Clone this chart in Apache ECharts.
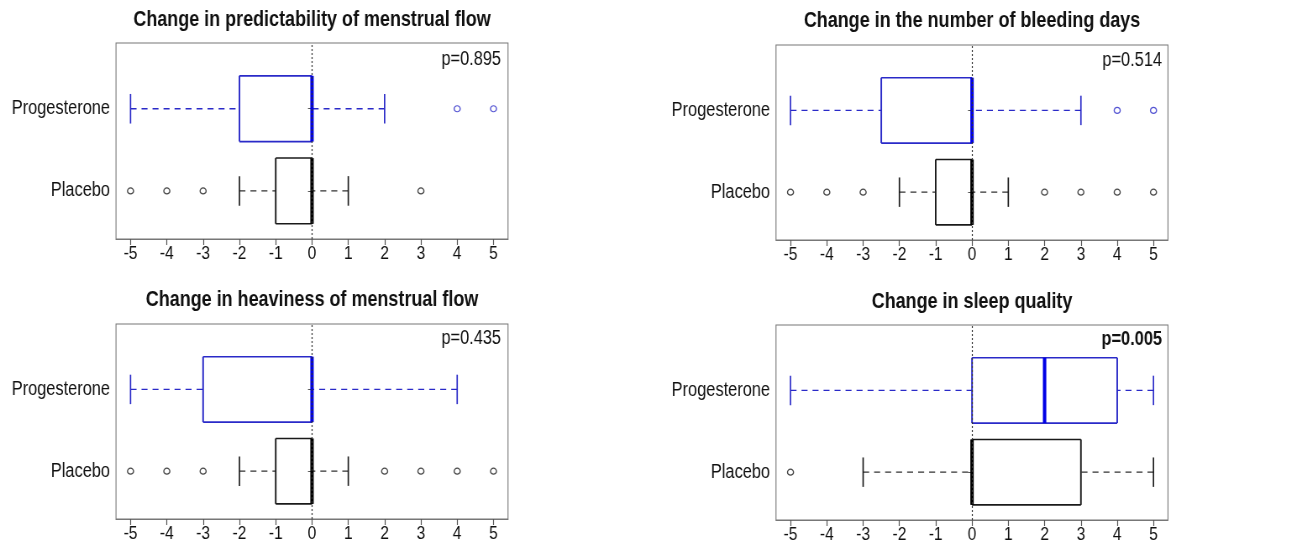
<!DOCTYPE html>
<html>
<head>
<meta charset="utf-8">
<script src="https://cdn.jsdelivr.net/npm/echarts@6/dist/echarts.min.js"></script>
<style>
html,body{margin:0;padding:0;background:#fff;overflow:hidden;}
#wrap{width:1306px;height:544px;overflow:hidden;position:relative;}
#c{height:544px;position:absolute;left:0;top:0;transform-origin:0 0;}
</style>
</head>
<body>
<div id="wrap"><div id="c"></div></div>
<script>
// ---- data ----
const titles = [
  "Change in predictability of menstrual flow",
  "Change in the number of bleeding days",
  "Change in heaviness of menstrual flow",
  "Change in sleep quality"
];
const pValues = ["p=0.895", "p=0.514", "p=0.435", "p=0.005"];
const pBold = [false, false, false, true];
const groups = ["Placebo", "Progesterone"];
const xTicks = [-5, -4, -3, -2, -1, 0, 1, 2, 3, 4, 5];
// [whiskerLow, Q1, median, Q3, whiskerHigh]
const progesteroneStats = [
  [-5, -2, 0, 0, 2],
  [-5, -2.5, 0, 0, 3],
  [-5, -3, 0, 0, 4],
  [-5, 0, 2, 4, 5]
];
const placeboStats = [
  [-2, -1, 0, 0, 1],
  [-2, -1, 0, 0, 1],
  [-2, -1, 0, 0, 1],
  [-3, 0, 0, 3, 5]
];
const progesteroneOutliers = [
  [4, 5],
  [4, 5],
  [],
  []
];
const placeboOutliers = [
  [-5, -4, -3, 3],
  [-5, -4, -3, 2, 3, 4, 5],
  [-5, -4, -3, 2, 3, 4, 5],
  [-5]
];

// ---- layout (the whole chart is drawn in a horizontally condensed frame) ----
const SX = 0.84;
const FONT = "'Liberation Sans', Arial, Helvetica, sans-serif";
const el = document.getElementById('c');
el.style.width = (1306 / SX) + 'px';
el.style.transform = 'scaleX(' + SX + ')';

const gridsPx = [
  {left: 116, top: 43, width: 392, height: 196},
  {left: 776, top: 45, width: 392, height: 195},
  {left: 116, top: 324, width: 392, height: 195},
  {left: 776, top: 325, width: 392, height: 195}
];
const grids = gridsPx.map(g => ({left: g.left / SX, top: g.top, width: g.width / SX, height: g.height}));
const titleY = [20.5, 21.5, 300.5, 302];
const pPos = [[501, 59.5], [1162, 60.5], [501, 339], [1162, 340]];
const BLUE = '#2a2ac8';
const BLUE_MED = '#0000e6';
const BLACK = '#1a1a1a';

function renderBox(params, api) {
  const y = api.value(0);
  const lo = api.value(1), q1 = api.value(2), med = api.value(3), q3 = api.value(4), hi = api.value(5);
  const isProg = api.value(6) === 1;
  const color = isProg ? BLUE : BLACK;
  const wColor = isProg ? BLUE : '#333';
  const medColor = isProg ? BLUE_MED : '#000';
  const bw = 0.4, cw = 0.18;
  const P = (x, yy) => api.coord([x, yy]);
  const children = [];
  const pLo = P(lo, y), pQ1 = P(q1, y), pQ3 = P(q3, y), pHi = P(hi, y);
  const dash = [6 / SX, 5 / SX];
  if (q1 > lo) children.push({type: 'line', shape: {x1: pLo[0], y1: pLo[1], x2: pQ1[0], y2: pQ1[1]},
    style: {stroke: wColor, lineWidth: 1.4, lineDash: dash}});
  if (hi > q3) children.push({type: 'line', shape: {x1: pHi[0], y1: pHi[1], x2: pQ3[0], y2: pQ3[1]},
    style: {stroke: wColor, lineWidth: 1.4, lineDash: dash}});
  [lo, hi].forEach(v => {
    const a = P(v, y - cw), b = P(v, y + cw);
    children.push({type: 'line', shape: {x1: a[0], y1: a[1], x2: b[0], y2: b[1]},
      style: {stroke: color, lineWidth: 1.4 / SX}});
  });
  const tl = P(q1, y + bw), br = P(q3, y - bw);
  // box: horizontal edges and vertical edges drawn separately to keep widths even
  children.push({type: 'line', shape: {x1: tl[0], y1: tl[1], x2: br[0], y2: tl[1]}, style: {stroke: color, lineWidth: 1.6}});
  children.push({type: 'line', shape: {x1: tl[0], y1: br[1], x2: br[0], y2: br[1]}, style: {stroke: color, lineWidth: 1.6}});
  children.push({type: 'line', shape: {x1: tl[0], y1: tl[1], x2: tl[0], y2: br[1]}, style: {stroke: color, lineWidth: 1.6 / SX}});
  children.push({type: 'line', shape: {x1: br[0], y1: tl[1], x2: br[0], y2: br[1]}, style: {stroke: color, lineWidth: 1.6 / SX}});
  const m1 = P(med, y + bw), m2 = P(med, y - bw);
  children.push({type: 'line', shape: {x1: m1[0], y1: m1[1], x2: m2[0], y2: m2[1]},
    style: {stroke: medColor, lineWidth: 3.4 / SX}});
  return {type: 'group', children: children};
}

const option = {
  animation: false,
  backgroundColor: '#fff',
  grid: grids.map(g => Object.assign({show: true, borderColor: '#777', borderWidth: 1.1, backgroundColor: 'transparent'}, g)),
  xAxis: grids.map((g, i) => ({
    type: 'value', gridIndex: i, min: -5.4, max: 5.4,
    splitLine: {show: false},
    axisLine: {show: true, onZero: false, lineStyle: {color: '#777', width: 1.1}},
    axisTick: {show: true, length: 6, lineStyle: {color: '#555', width: 1 / SX}, customValues: xTicks},
    axisLabel: {customValues: xTicks, color: '#111', fontSize: 18.5, fontFamily: FONT, margin: 5,
      formatter: v => String(v)}
  })),
  yAxis: grids.map((g, i) => ({
    type: 'value', gridIndex: i, min: 0.415, max: 2.8,
    splitLine: {show: false},
    axisLine: {show: false},
    axisTick: {show: true, length: 4 / SX, lineStyle: {color: '#555'}, customValues: [1, 2]},
    axisLabel: {customValues: [1, 2], color: '#111', fontSize: 19.5, fontFamily: FONT, margin: 6 / SX,
      formatter: v => groups[Math.round(v) - 1]}
  })),
  graphic: [],
  series: []
};

for (let i = 0; i < 4; i++) {
  option.series.push({
    type: 'custom', xAxisIndex: i, yAxisIndex: i, renderItem: renderBox,
    encode: {x: [1, 2, 3, 4, 5], y: 0},
    data: [
      [1].concat(placeboStats[i], [0]),
      [2].concat(progesteroneStats[i], [1])
    ],
    markLine: {
      silent: true, symbol: 'none', label: {show: false},
      lineStyle: {type: [2, 2], color: '#333', width: 1 / SX},
      data: [{xAxis: 0}]
    },
    z: 3
  });
  option.series.push({
    type: 'scatter', xAxisIndex: i, yAxisIndex: i, symbol: 'circle', symbolSize: [6 / SX, 6],
    itemStyle: {color: '#fff', borderColor: BLACK, borderWidth: 1.3},
    data: placeboOutliers[i].map(v => [v, 1]), z: 4
  });
  option.series.push({
    type: 'scatter', xAxisIndex: i, yAxisIndex: i, symbol: 'circle', symbolSize: [6 / SX, 6],
    itemStyle: {color: '#fff', borderColor: BLUE, borderWidth: 1.3},
    data: progesteroneOutliers[i].map(v => [v, 2]), z: 4
  });
  const g = grids[i];
  option.graphic.push({
    type: 'text', x: g.left + g.width / 2, y: titleY[i], z: 10,
    style: {text: titles[i], font: 'bold 21.4px ' + FONT, fill: '#111', textAlign: 'center', textVerticalAlign: 'middle'}
  });
  option.graphic.push({
    type: 'text', x: pPos[i][0] / SX, y: pPos[i][1], z: 10,
    style: {text: pValues[i], font: (pBold[i] ? 'bold ' : '') + '19.5px ' + FONT, fill: '#111', textAlign: 'right', textVerticalAlign: 'middle'}
  });
}

const chart = echarts.init(el, null, {renderer: 'canvas'});
chart.setOption(option);
</script>
</body>
</html>
